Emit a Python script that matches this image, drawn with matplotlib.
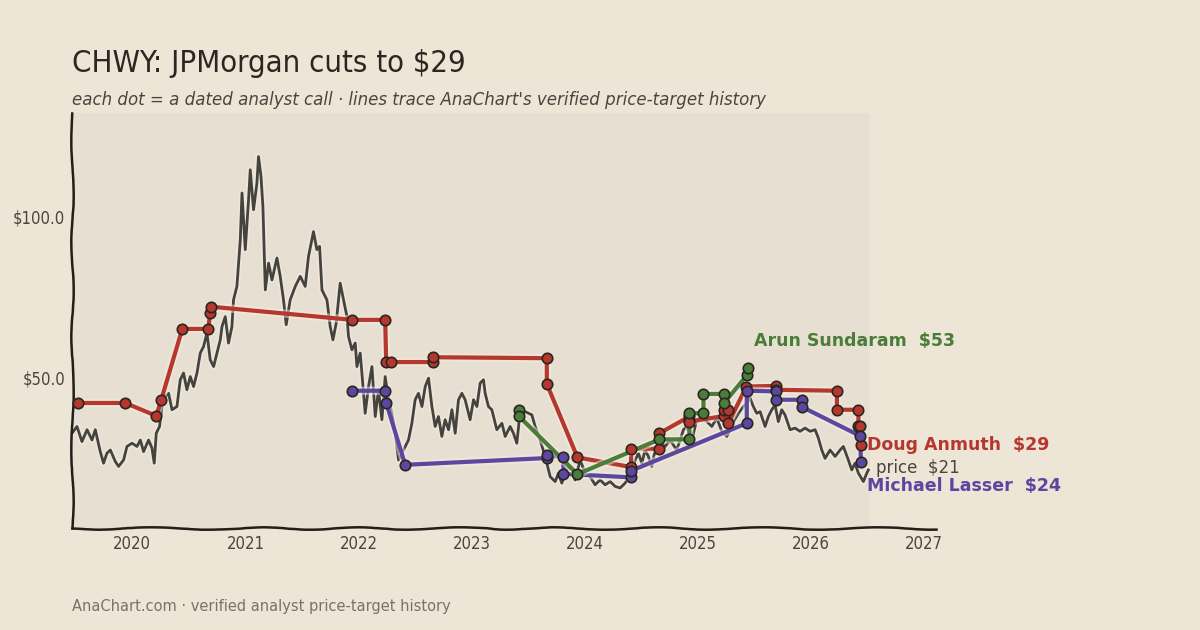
import matplotlib
matplotlib.use("Agg")
import matplotlib.pyplot as plt
import matplotlib.patheffects as pe

# daily close (sampled), decimal years
price_t = [2019.467, 2019.511, 2019.555, 2019.600, 2019.644, 2019.673, 2019.717, 2019.746, 2019.776, 2019.806,
           2019.850, 2019.879, 2019.923, 2019.953, 2019.997, 2020.042, 2020.071, 2020.100, 2020.144, 2020.174,
           2020.194, 2020.212, 2020.241, 2020.262, 2020.292, 2020.321, 2020.351, 2020.395, 2020.424, 2020.453,
           2020.483, 2020.513, 2020.542, 2020.572, 2020.601, 2020.630, 2020.660, 2020.689, 2020.719, 2020.749,
           2020.778, 2020.793, 2020.822, 2020.851, 2020.881, 2020.895, 2020.925, 2020.955, 2020.970, 2020.999,
           2021.028, 2021.043, 2021.072, 2021.102, 2021.116, 2021.138, 2021.155,
           2021.176, 2021.205, 2021.235, 2021.279, 2021.308, 2021.337, 2021.361, 2021.396, 2021.441, 2021.485,
           2021.529, 2021.558, 2021.602, 2021.632, 2021.656, 2021.677, 2021.721, 2021.750, 2021.774, 2021.803,
           2021.838, 2021.868, 2021.898, 2021.912, 2021.942, 2021.971, 2021.986,
           2022.015, 2022.030, 2022.059, 2022.089, 2022.119, 2022.148, 2022.177, 2022.207, 2022.236, 2022.265,
           2022.295, 2022.325, 2022.354, 2022.384, 2022.413, 2022.442, 2022.472, 2022.501, 2022.530, 2022.561,
           2022.590, 2022.619, 2022.649, 2022.678, 2022.707, 2022.737, 2022.766, 2022.796, 2022.826, 2022.855,
           2022.884, 2022.914, 2022.943,
           2022.987, 2023.017, 2023.047, 2023.076, 2023.105, 2023.120, 2023.149, 2023.179, 2023.223, 2023.268,
           2023.297, 2023.341, 2023.370, 2023.400, 2023.429, 2023.474, 2023.533, 2023.562, 2023.606, 2023.650,
           2023.695, 2023.739, 2023.768, 2023.798, 2023.842, 2023.886, 2023.915, 2023.960,
           2024.004, 2024.048, 2024.092, 2024.136, 2024.181, 2024.225, 2024.269, 2024.313, 2024.357, 2024.402,
           2024.446, 2024.475, 2024.505, 2024.534, 2024.563, 2024.593, 2024.623, 2024.667, 2024.711, 2024.755,
           2024.814, 2024.873, 2024.903, 2024.947, 2024.991,
           2025.035, 2025.080, 2025.124, 2025.168, 2025.212, 2025.256, 2025.286, 2025.315, 2025.359, 2025.403,
           2025.433, 2025.462, 2025.491, 2025.521, 2025.551, 2025.595, 2025.624, 2025.654, 2025.683, 2025.712,
           2025.742, 2025.771, 2025.816, 2025.860, 2025.904, 2025.948, 2025.993,
           2026.037, 2026.066, 2026.096, 2026.125, 2026.169, 2026.214, 2026.258, 2026.287, 2026.331, 2026.361,
           2026.390, 2026.420, 2026.464, 2026.494, 2026.508]
price_v = [32.8, 34.9, 30.2, 33.9, 30.7, 33.9, 27.1, 23.5, 26.6, 27.6,
           24.0, 22.5, 24.5, 28.7, 29.7, 28.7, 30.7, 27.1, 30.7, 28.2,
           23.5, 32.8, 34.9, 41.1, 44.2, 45.2, 40.1, 41.1, 49.4, 51.5,
           46.3, 50.4, 47.3, 51.5, 57.7, 59.7, 63.9, 55.6, 53.5, 57.7,
           61.8, 65.9, 69.0, 60.8, 65.9, 74.2, 78.4, 92.9, 107.4, 89.8,
           105.3, 114.6, 102.2, 110.5, 118.7, 112.5, 103.2,
           77.3, 85.6, 80.4, 87.2, 81.5, 74.2, 66.5, 74.2, 78.4, 81.5,
           78.4, 87.7, 95.4, 89.8, 90.8, 77.3, 74.2, 65.9, 61.8, 67.0,
           79.4, 74.2, 69.0, 62.8, 58.7, 60.8, 53.5,
           57.7, 51.5, 39.0, 47.3, 53.5, 38.0, 46.3, 37.0, 50.4, 43.2,
           39.0, 32.8, 24.5, 26.6, 28.7, 30.7, 35.9, 43.2, 45.2, 41.1,
           47.3, 49.9, 41.1, 34.9, 38.0, 31.8, 37.0, 33.9, 40.1, 32.8,
           43.2, 45.2, 43.2,
           37.0, 43.2, 41.1, 48.4, 49.4, 45.2, 41.1, 40.1, 33.9, 35.9,
           31.8, 34.9, 32.8, 29.7, 39.5, 39.5, 38.5, 34.9, 30.7, 25.6,
           19.3, 17.8, 20.4, 17.3, 22.5, 21.4, 18.3, 24.5,
           20.4, 19.3, 16.8, 18.3, 16.8, 17.8, 16.3, 15.8, 17.3, 20.4,
           24.5, 26.6, 23.5, 27.6, 25.6, 22.5, 27.6, 29.7, 28.7, 30.7,
           27.6, 33.9, 34.9, 30.7, 37.0,
           38.0, 36.4, 34.9, 37.5, 33.4, 31.8, 33.9, 36.4, 39.0, 41.1,
           42.1, 43.7, 41.1, 39.0, 39.5, 34.9, 38.0, 40.1, 41.6, 36.4,
           40.1, 38.5, 33.9, 34.4, 33.4, 34.4, 33.4,
           33.9, 31.3, 27.6, 25.0, 27.6, 25.6, 27.6, 28.7, 24.5, 21.4,
           23.5, 20.4, 17.8, 20.4, 21.4]

# analyst price-target histories
doug_t = [2019.523, 2019.938, 2020.212, 2020.256, 2020.442, 2020.672, 2020.688, 2020.695, 2021.947, 2022.236,
          2022.245, 2022.286, 2022.658, 2022.658, 2023.665, 2023.665, 2023.936, 2024.410, 2024.410, 2024.661,
          2024.661, 2024.926, 2024.926, 2024.926, 2025.235, 2025.235, 2025.270, 2025.270, 2025.430, 2025.690,
          2025.690, 2026.230, 2026.230, 2026.420, 2026.420, 2026.435, 2026.445]
doug_v = [42.2, 42.2, 38.2, 43.2, 65.2, 65.2, 70.1, 72.1, 68.0, 68.0,
          54.9, 54.9, 54.9, 56.4, 56.1, 48.1, 25.3, 22.3, 28.0, 28.0,
          32.8, 38.0, 37.0, 36.4, 38.2, 40.1, 40.1, 35.9, 47.3, 47.5,
          46.3, 46.0, 40.1, 40.1, 35.1, 34.9, 29.0]

lasser_t = [2021.947, 2022.236, 2022.245, 2022.413, 2023.665, 2023.665, 2023.812, 2023.812, 2024.413, 2024.413,
            2025.433, 2025.433, 2025.690, 2025.690, 2025.925, 2025.925, 2026.434, 2026.443]
lasser_v = [46.0, 46.0, 42.3, 23.0, 25.1, 26.1, 25.3, 20.2, 19.1, 21.2,
            35.9, 46.0, 45.8, 43.2, 43.2, 40.9, 32.0, 23.8]

arun_t = [2023.415, 2023.415, 2023.936, 2024.661, 2024.926, 2024.926, 2025.050, 2025.050, 2025.233, 2025.233,
          2025.438, 2025.447]
arun_v = [40.1, 38.2, 20.1, 30.9, 30.9, 39.0, 39.0, 45.0, 45.0, 42.2, 51.0, 53.0]

years = [2020, 2021, 2022, 2023, 2024, 2025, 2026, 2027]

BG = "#ede5d5"
PLOT_BG = "#e7dfd1"
INK = "#2b2622"
MUTED = "#4a4540"
RED = "#b5372e"
GREEN = "#4a7c3a"
PURPLE = "#5b47a0"

cond = dict(family="DejaVu Sans", stretch="condensed")

fig = plt.figure(figsize=(12, 6.3), dpi=100, facecolor=BG)
ax = fig.add_axes([0.06, 0.162, 0.72, 0.659])
ax.set_facecolor(BG)

xmin, xmax = 2019.467, 2027.106
ax.set_xlim(xmin, xmax)
ax.set_ylim(3.4, 132.3)

span = ax.axvspan(xmin, price_t[-1] + 0.015, color=PLOT_BG, lw=0, zorder=0)

ax.plot(price_t, price_v, color="#45433f", lw=2.0, zorder=2,
        path_effects=[pe.withStroke(linewidth=4.5, foreground="#f3ede2", alpha=0.5)])

for t, v, c in [(doug_t, doug_v, RED), (lasser_t, lasser_v, PURPLE), (arun_t, arun_v, GREEN)]:
    ax.plot(t, v, color=c, lw=3, zorder=3, solid_capstyle="round",
            path_effects=[pe.withStroke(linewidth=6, foreground="#f3ede2", alpha=0.5)])
    ax.plot(t, v, "o", color=c, ms=7.5, mec="#2a2520", mew=1.2, zorder=4)

# end labels
ax.text(arun_t[-1] + 0.05, arun_v[-1] + 8.5, "Arun Sundaram  $%d" % round(arun_v[-1]),
        color=GREEN, fontsize=12.5, fontweight="bold", va="center", ha="left")
ax.text(doug_t[-1] + 0.05, doug_v[-1] + 0.2, "Doug Anmuth  $%d" % round(doug_v[-1]),
        color=RED, fontsize=12.5, fontweight="bold", va="center", ha="left")
ax.text(price_t[-1] + 0.07, price_v[-1] + 0.6, "price  $%d" % round(price_v[-1]),
        color=MUTED, fontsize=12, va="center", ha="left")
ax.text(lasser_t[-1] + 0.05, lasser_v[-1] - 7.3, "Michael Lasser  $%d" % round(lasser_v[-1]),
        color=PURPLE, fontsize=12.5, fontweight="bold", va="center", ha="left")

ax.set_xticks(years)
ax.set_xticklabels([str(y) for y in years], color=MUTED, fontsize=12, **cond)
ax.set_yticks([50, 100])
ax.set_yticklabels(["$50.0", "$100.0"], color=MUTED, fontsize=12, **cond)
ax.tick_params(length=0, pad=5)

for s in ["top", "right"]:
    ax.spines[s].set_visible(False)
for s in ["left", "bottom"]:
    ax.spines[s].set_color("#221e1a")
    ax.spines[s].set_linewidth(1.8)
    ax.spines[s].set_sketch_params(scale=1.2, length=130, randomness=3)

fig.text(0.06, 1 - 63 / 630, "CHWY: JPMorgan cuts to $29", fontsize=22.2, color=INK, va="center", **cond)
fig.text(0.06, 1 - 100 / 630,
         "each dot = a dated analyst call \u00b7 lines trace AnaChart's verified price-target history",
         fontsize=13.3, color=MUTED, style="italic", va="center", **cond)
fig.text(0.06, 1 - 606 / 630, "AnaChart.com \u00b7 verified analyst price-target history",
         fontsize=10.5, color="#7a7268", va="center")

fig.savefig("out.png", dpi=100, facecolor=BG)
